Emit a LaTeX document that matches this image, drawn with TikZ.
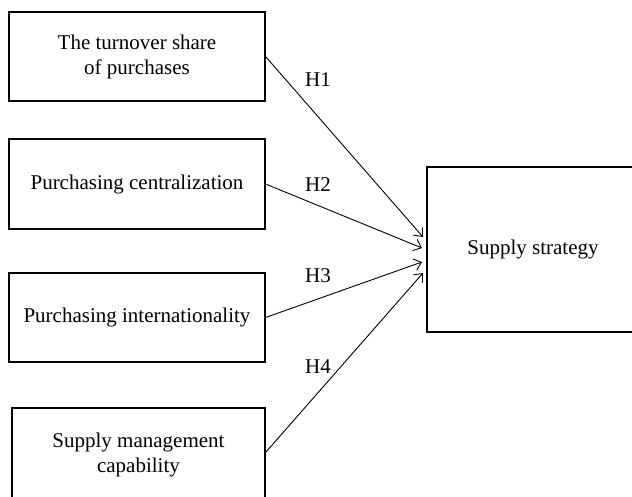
\documentclass[tikz,border=0pt]{standalone}
\usepackage{fontspec}
\setmainfont{Liberation Serif}
\usetikzlibrary{arrows.meta}
\begin{document}
\begin{tikzpicture}[x=1pt,y=-1pt,
  box/.style={draw,line width=1.1pt,rectangle,inner sep=0pt,align=center,
    font=\fontsize{21}{25}\selectfont},
  lab/.style={font=\fontsize{21}{25}\selectfont,inner sep=0pt},
  arr/.style={line width=0.9pt,-{Straight Barb[length=7pt,width=12pt,line width=0.9pt]}}]
\useasboundingbox (0,0) rectangle (632,496);
\clip (0,0) rectangle (632,496);
\node[box,minimum width=256pt,minimum height=89pt] (b1) at (137,56.5) {The turnover share\\of purchases};
\node[box,minimum width=256pt,minimum height=90pt] (b2) at (137,184) {Purchasing centralization};
\node[box,minimum width=256pt,minimum height=89pt] (b3) at (137,317.5) {Purchasing internationality};
\node[box,minimum width=253pt,minimum height=93pt] (b4) at (138.5,454.5) {Supply management\\capability};
\node[box,minimum width=212pt,minimum height=165pt] (ss) at (533,249.5) {Supply strategy};
\coordinate (t1) at (423,237);
\coordinate (t2) at (422,248);
\coordinate (t3) at (422,262);
\coordinate (t4) at (423,273);
\draw[arr] (b1.east) -- (t1);
\draw[arr] (b2.east) -- (t2);
\draw[arr] (b3.east) -- (t3);
\draw[arr] ([yshift=2pt]b4.east) -- (t4);
\node[lab] (h1) at (318,80) {H1};
\node[lab] (h2) at (318,184.5) {H2};
\node[lab] (h3) at (318,276) {H3};
\node[lab] (h4) at (318,367) {H4};
\end{tikzpicture}
\end{document}
